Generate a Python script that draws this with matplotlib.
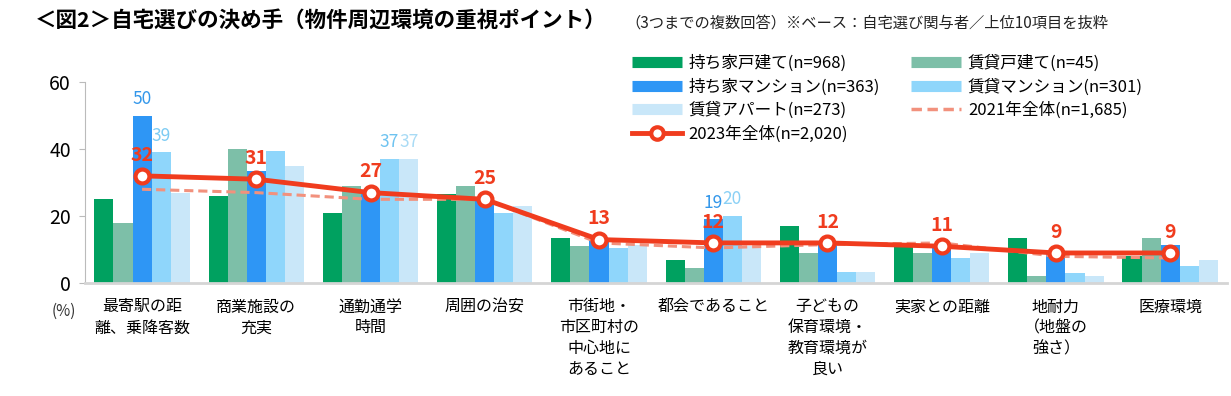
import matplotlib
matplotlib.use("Agg")
import matplotlib.pyplot as plt
from matplotlib.lines import Line2D
import numpy as np

plt.rcParams['font.family'] = ['Noto Sans CJK JP', 'DejaVu Sans']

# categories (x labels)
categories = ["最寄駅の距\n離、乗降客数", "商業施設の\n充実", "通勤通学\n時間", "周囲の治安",
              "市街地・\n市区町村の\n中心地に\nあること", "都会であること",
              "子どもの\n保育環境・\n教育環境が\n良い", "実家との距離",
              "地耐力\n（地盤の\n強さ）", "医療環境"]

# series values (%)
own_house = [25, 26, 21, 26.5, 13.5, 7, 17, 12, 13.5, 8]
rent_house = [18, 40, 29, 29, 11, 4.5, 9, 9, 2, 13.5]
own_mansion = [50, 33.5, 26.5, 25, 13, 19, 12.5, 10.5, 9, 11.5]
rent_mansion = [39, 39.5, 37, 21, 10.5, 20, 3.3, 7.5, 3, 5]
rent_apart = [27, 35, 37, 23, 11.5, 11, 3.3, 9, 2, 7]
all_2023 = [32, 31, 27, 25, 13, 12, 12, 11, 9, 9]
all_2021 = [28, 27, 25, 25, 12, 10.5, 11.5, 12, 8, 7.5]

series_names = ["持ち家戸建て(n=968)", "賃貸戸建て(n=45)", "持ち家マンション(n=363)",
                "賃貸マンション(n=301)", "賃貸アパート(n=273)"]
colors = ["#00A160", "#7DBFA8", "#2E96F5", "#8FD6FB", "#C9E7F9"]
red = "#F03C1E"
salmon = "#F2917D"

fig = plt.figure(figsize=(12.31, 3.96), dpi=100)
ax = fig.add_axes([0.069, 0.285, 0.928, 0.508])

x = np.arange(len(categories))
w = 0.167
all_series = [own_house, rent_house, own_mansion, rent_mansion, rent_apart]
for i, (vals, c) in enumerate(zip(all_series, colors)):
    ax.bar(x + (i - 2) * w, vals, width=w, color=c, zorder=2)

ax.plot(x, all_2021, color=salmon, lw=2.2, ls=(0, (3, 1.6)), zorder=3)
ax.plot(x, all_2023, color=red, lw=3.5, marker='o', ms=10, mfc='white',
        mec=red, mew=3, zorder=4)

for xi, v in zip(x, all_2023):
    ax.text(xi, v + 6.2, str(v), color=red, fontsize=14, fontweight='bold',
            ha='center', va='center')

# value labels on selected bars
bar_labels = [(0, 2, own_mansion, "#3397EA"), (0, 3, rent_mansion, "#7CCBF3"),
              (2, 3, rent_mansion, "#6EC3F0"), (2, 4, rent_apart, "#A9DBF5"),
              (5, 2, own_mansion, "#3397EA"), (5, 3, rent_mansion, "#8AD0F5")]
for gi, si, vals, c in bar_labels:
    ax.text(gi + (si - 2) * w, vals[gi] + 5, f"{vals[gi]:.0f}", color=c,
            fontsize=12.5, ha='center', va='center')

ax.set_xlim(-0.5, 9.5)
ax.set_ylim(0, 60)
ax.set_yticks([0, 20, 40, 60])
ax.tick_params(axis='y', labelsize=14, length=4, color='#BBBBBB', pad=6)
ax.set_xticks(x)
ax.set_xticklabels(categories, fontsize=11.5, linespacing=1.3, va='top')
ax.tick_params(axis='x', length=0, pad=11)
for s in ['top', 'right']:
    ax.spines[s].set_visible(False)
ax.spines['left'].set_color('#BBBBBB')
ax.spines['bottom'].set_color('#D5D5D5')
ax.spines['bottom'].set_linewidth(2)

fig.text(0.042, 0.215, "(%)", fontsize=11, ha='left', va='center', color='#333333')

fig.text(0.028, 0.948, "＜図2＞自宅選びの決め手（物件周辺環境の重視ポイント）",
         fontsize=15.5, fontweight='bold', ha='left', va='center')
fig.text(0.508, 0.943, "（3つまでの複数回答）※ベース：自宅選び関与者／上位10項目を抜粋",
         fontsize=11, ha='left', va='center', color='#222222')

h = [Line2D([], [], color=c, lw=8, solid_capstyle='butt') for c in colors]
h2021 = Line2D([], [], color=salmon, lw=2.5, ls=(0, (3, 1.6)))
h2023 = Line2D([], [], color=red, lw=3.5, marker='o', ms=9, mfc='white', mec=red, mew=3)
handles = [h[0], h[2], h[4], h2023, h[1], h[3], h2021]
labels = [series_names[0], series_names[2], series_names[4], "2023年全体(n=2,020)",
          series_names[1], series_names[3], "2021年全体(n=1,685)"]
fig.legend(handles, labels, loc='upper left', bbox_to_anchor=(0.513, 0.862), ncol=2,
           frameon=False, fontsize=12, handlelength=3.0, columnspacing=1.9,
           labelspacing=0.38, handletextpad=0.4, borderaxespad=0, borderpad=0)

fig.savefig("out.png", dpi=100)
